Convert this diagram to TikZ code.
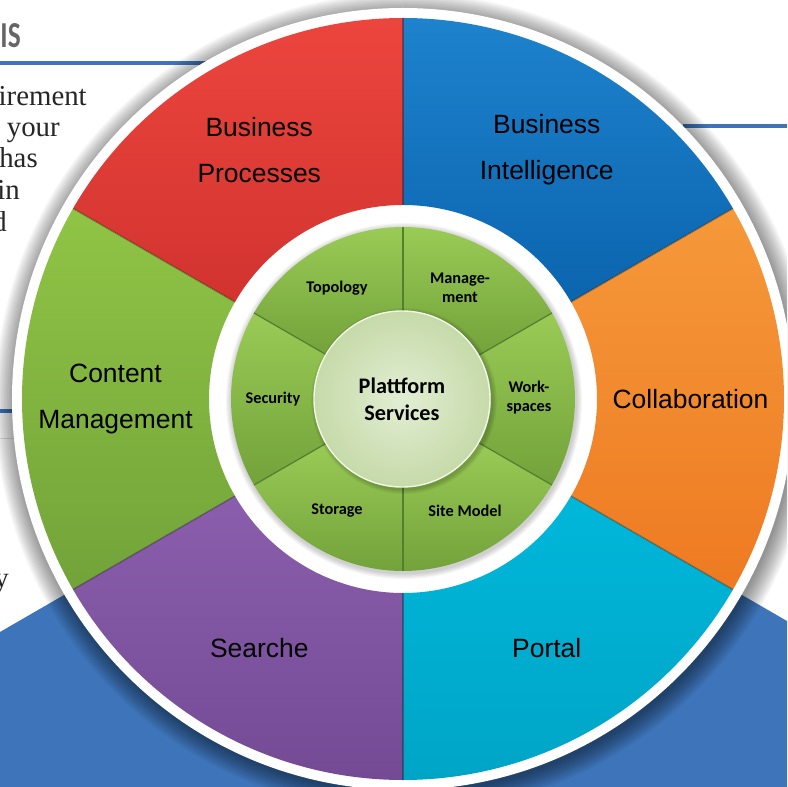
\documentclass[tikz,border=0pt]{standalone}
\usepackage{fontspec}
\setmainfont{Liberation Serif}
\setsansfont{Liberation Sans}
\newfontfamily\calibri{Carlito}

\definecolor{pageblue}{HTML}{3E75BA}
\definecolor{biA}{HTML}{1E82CD}\definecolor{biB}{HTML}{0B64AE}
\definecolor{bpA}{HTML}{EC453E}\definecolor{bpB}{HTML}{D2332F}
\definecolor{cmA}{HTML}{90C445}\definecolor{cmB}{HTML}{72A33A}
\definecolor{seA}{HTML}{8A5EAC}\definecolor{seB}{HTML}{744A95}
\definecolor{poA}{HTML}{00B7DA}\definecolor{poB}{HTML}{00A5C6}
\definecolor{coA}{HTML}{F5993A}\definecolor{coB}{HTML}{EE7A22}
\definecolor{ringA}{HTML}{9ACB56}\definecolor{ringB}{HTML}{72A23A}
\definecolor{ringline}{HTML}{557F30}
\definecolor{coreA}{HTML}{E2EED3}\definecolor{coreB}{HTML}{C6DAA9}

\tikzset{outer label/.style={font=\sffamily\fontsize{18.8}{32.7}\selectfont,align=center,text=black}}
\tikzset{inner label/.style={font=\calibri\bfseries\fontsize{11.6}{13.5}\selectfont,align=center,text=black}}
\tikzset{page text/.style={font=\fontsize{20.5}{24}\selectfont,anchor=base east,text=black!85,inner sep=0pt}}
\tikzset{core/.style={circle,minimum size=4.4cm,inner sep=0pt,inner color=coreA,outer color=coreB,
		draw=white!50!coreA,line width=1pt,align=center,
		font=\calibri\bfseries\fontsize{15.8}{19.2}\selectfont}}

\begin{document}
\begin{tikzpicture}[x=0.025cm,y=0.025cm]
	\useasboundingbox (-403,-388) rectangle (384,399);
	\clip (-403,-388) rectangle (384,399);
	\fill[white] (-403,-388) rectangle (384,399);

	% page behind the wheel
	\fill[pageblue] (-403,-233) -- (0,0) -- (384,-222) -- (384,-388) -- (-403,-388) -- cycle;
	\draw[pageblue,line width=2.2pt] (-403,336) -- (-190,336);
	\draw[pageblue,line width=2.2pt] (280,273) -- (384,273);
	\draw[pageblue,line width=2.2pt] (-403,-12) -- (-390,-12);
	\draw[black!12,line width=0.6pt] (-403,-39) -- (-385,-39);
	\node[anchor=base east,inner sep=0pt,text=black!60,
		font=\calibri\bfseries\fontsize{26}{26}\selectfont] (head) at (-382,351) {\scalebox{0.75}[1]{IS}};
	\foreach \x/\y/\w [count=\i] in {-316/293/irement,-343/262/o your,-365/231/has,
			-383/199/in,-396/167/d,-394/-188/y}
		\node[page text] (line\i) at (\x,\y) {\w};

	% shadow and white rim
	\foreach \i in {1,...,14}
		\fill[black,opacity=0.035] (2,-4) circle ({389+\i*1.5});
	\fill[white] (0,0) circle (391);

	% outer wheel
	\foreach \a/\ca/\cb/\nm/\txt in {30/biA/biB/bi/{Business\\Intelligence},
			90/bpA/bpB/bp/{Business\\Processes},150/cmA/cmB/cm/{Content\\Management},
			210/seA/seB/se/{Searche},270/poA/poB/po/{Portal},-30/coA/coB/co/{Collaboration}}
	{
		\path[top color=\ca,bottom color=\cb] (\a:194) -- (\a:381)
			arc[start angle=\a,delta angle=60,radius=381] -- ({\a+60}:194)
			arc[start angle=\a+60,delta angle=-60,radius=194] -- cycle;
		\node[outer label] (\nm) at ({\a+30}:287.5) {\txt};
	}
	\foreach \a in {30,90,...,330}
		\draw[black,opacity=0.3,line width=1pt] (\a:194) -- (\a:381);

	% inner ring
	\foreach \i in {1,...,5}
		\fill[black,opacity=0.04] (1,-2) circle ({172+\i*1.2});
	\foreach \a in {30,90,...,330}
		\path[top color=ringA,bottom color=ringB] (\a:88) -- (\a:172)
			arc[start angle=\a,delta angle=60,radius=172] -- ({\a+60}:88)
			arc[start angle=\a+60,delta angle=-60,radius=88] -- cycle;
	\foreach \a in {30,90,...,330}
		\draw[ringline,line width=0.9pt] (\a:88) -- (\a:172);
	\foreach \x/\y/\nm/\txt in {57/111/mg/{Manage-\\ment},-66/111/tp/Topology,-130/0/sc/Security,
			-66/-112/st/Storage,62/-112/sm/Site Model,126/1/ws/{Work-\\spaces}}
		\node[inner label] (\nm) at (\x,\y) {\txt};

	\foreach \i in {1,...,4}
		\fill[black,opacity=0.05] (1,-2) circle ({88+\i*1.2});
	\node[core] (core) at (-1,0) {Plattform\\Services};
\end{tikzpicture}
\end{document}
